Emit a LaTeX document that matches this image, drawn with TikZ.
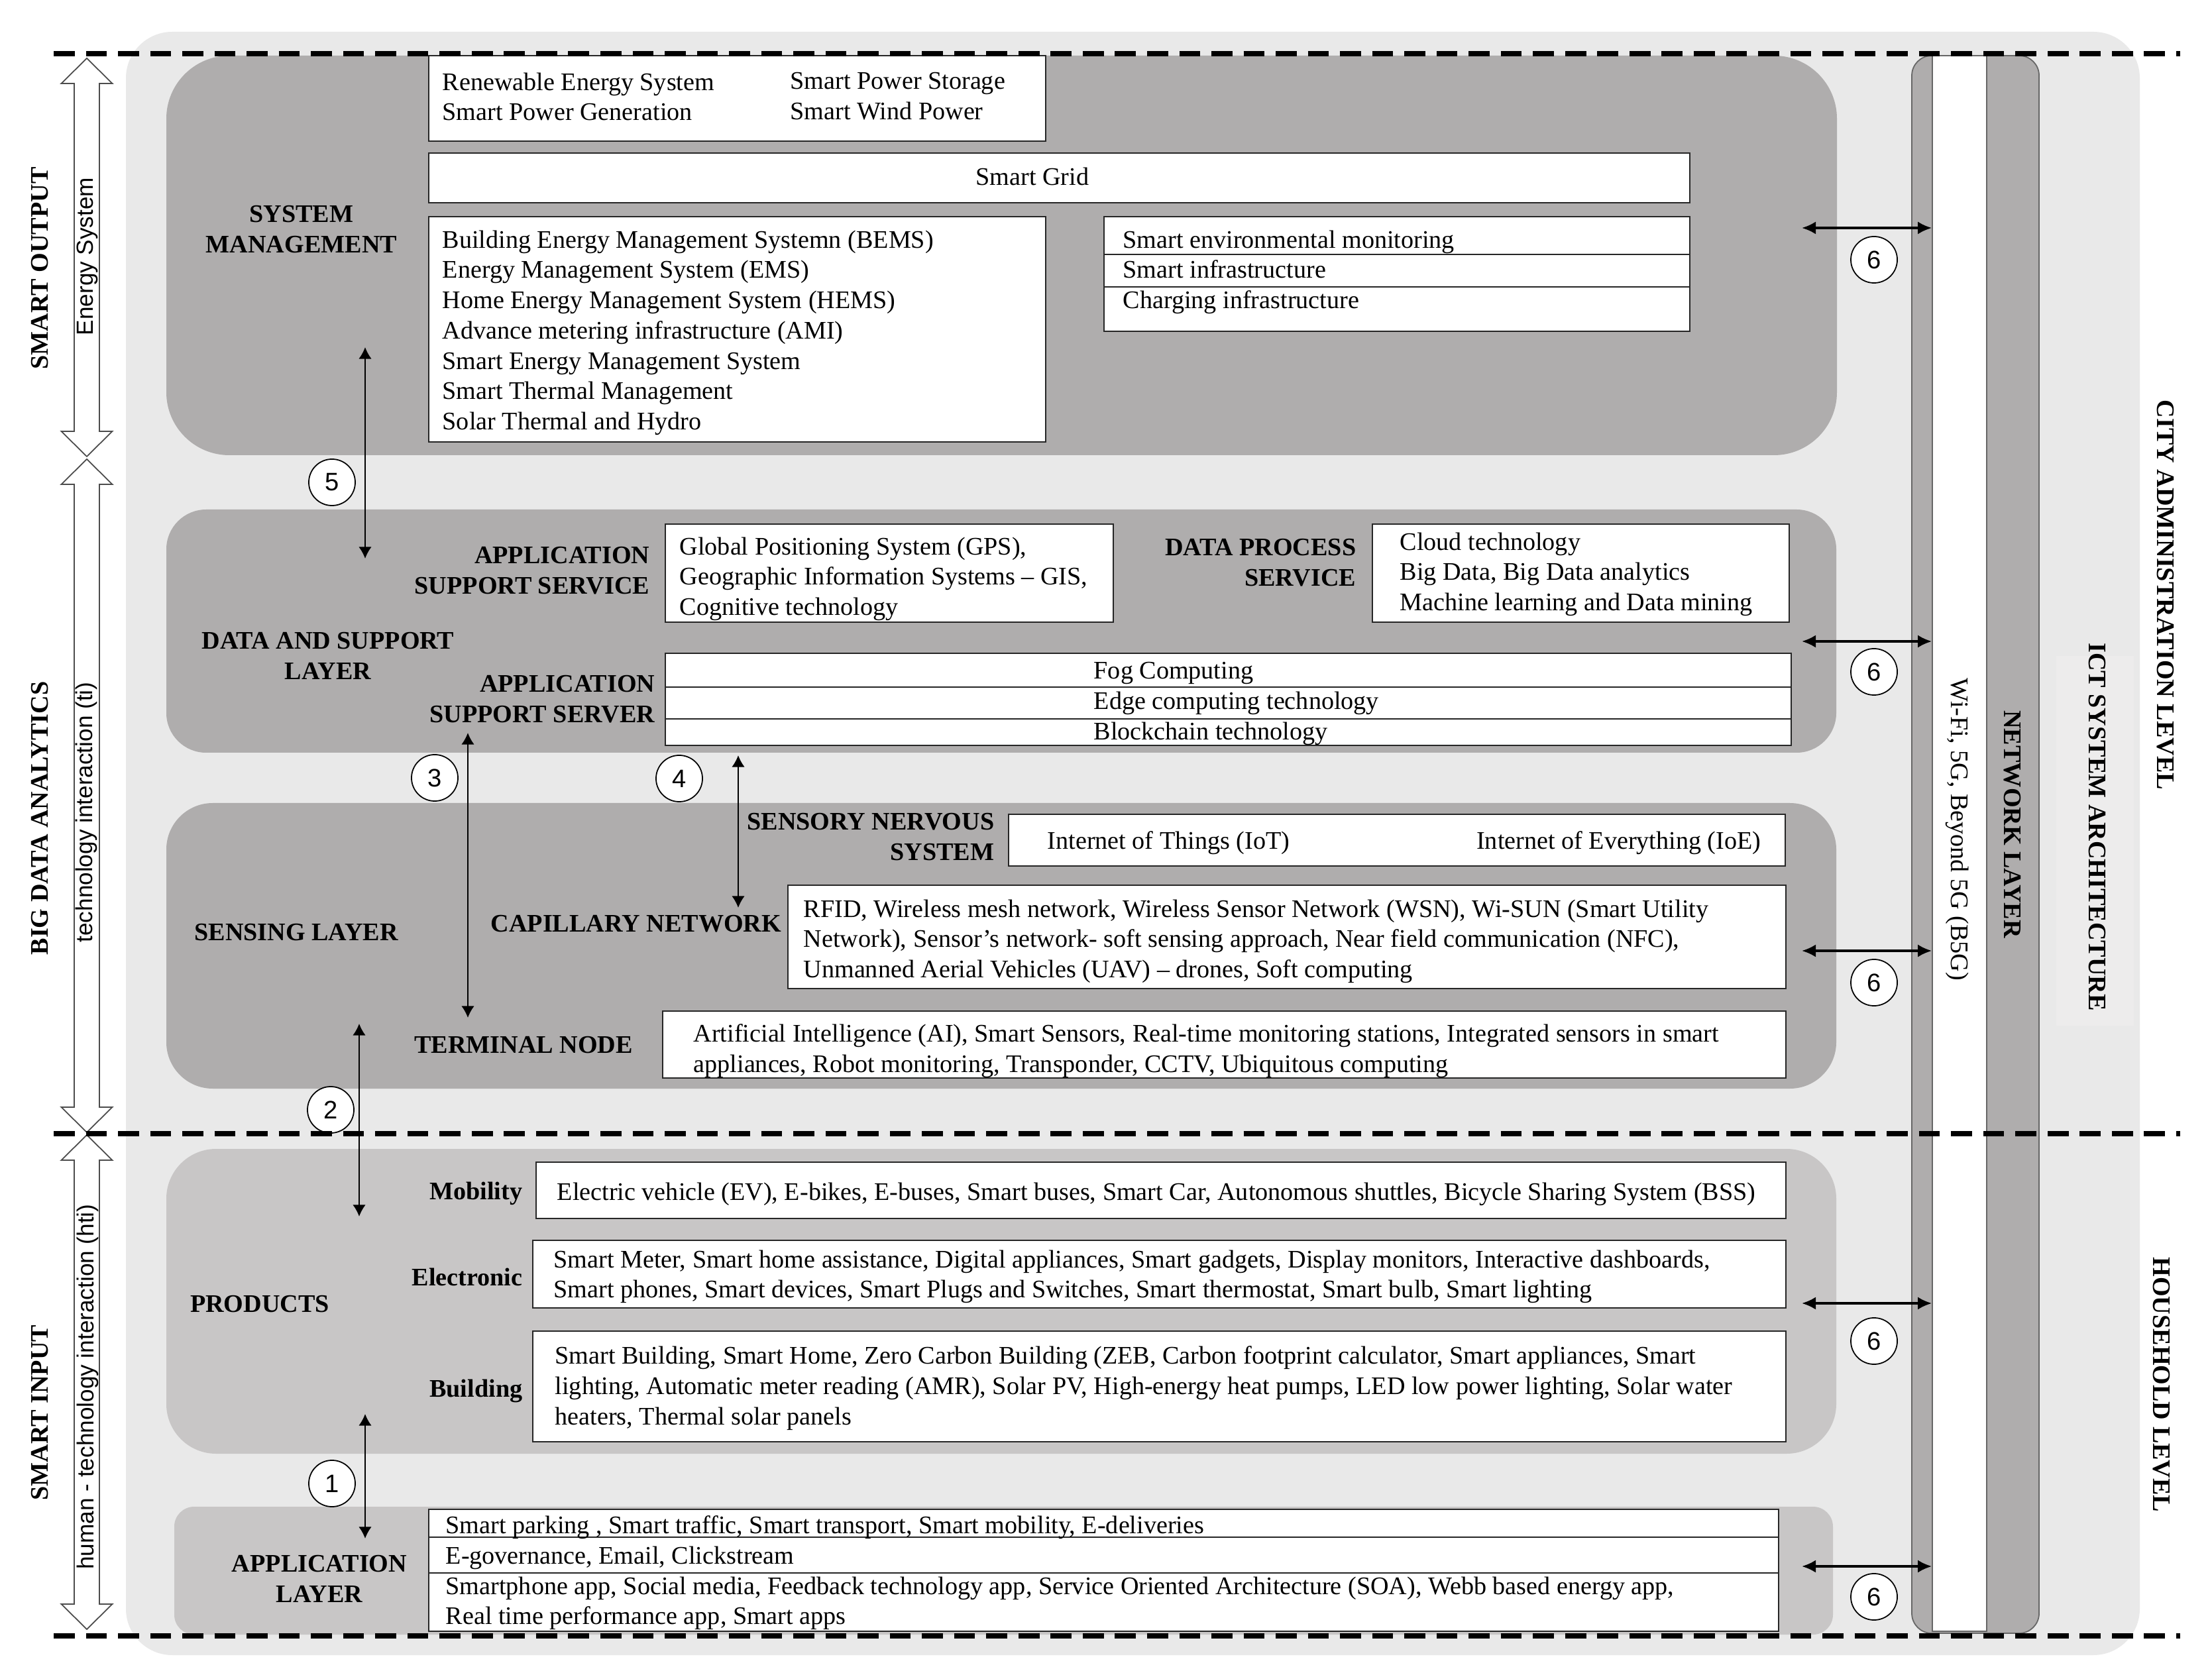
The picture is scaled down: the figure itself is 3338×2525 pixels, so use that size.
\documentclass[tikz,border=0pt]{standalone}
\usepackage{fontspec}
\setmainfont{Liberation Serif}
\setsansfont{Liberation Sans}
\usetikzlibrary{positioning,fit,arrows.meta}
\definecolor{outerbg}{HTML}{E9E9E9}
\definecolor{panelgray}{HTML}{AFADAD}
\definecolor{panellight}{HTML}{C8C6C6}
\definecolor{ictbg}{HTML}{EDECEC}
\newcommand{\bodyfont}{\fontsize{10.85}{13}\selectfont}
\newcommand{\hollowarrow}[3]{% x, top tip, bottom tip
  \draw[sidearrow] (#1,#2) -- (#1+38.5,#2+38) -- (#1+19,#2+38) -- (#1+19,#3-38)
    -- (#1+38.5,#3-38) -- (#1,#3) -- (#1-38.5,#3-38) -- (#1-19,#3-38)
    -- (#1-19,#2+38) -- (#1-38.5,#2+38) -- cycle;}
\tikzset{
panel/.style={fill=panelgray,draw=none,inner sep=0pt},
lpanel/.style={panel,fill=panellight},
wbox/.style={fill=white,draw=black!85,line width=0.5pt,inner sep=0pt},
txt/.style={anchor=north west,inner sep=0pt,align=left,font=\bodyfont,execute at begin node=\strut},
line/.style={inner sep=0pt,font=\bodyfont},
lab/.style={inner sep=0pt,align=center,font=\bodyfont\bfseries},
side/.style={inner sep=0pt,font=\sffamily\fontsize{10}{12}\selectfont},
num/.style={draw,circle,fill=white,line width=0.5pt,minimum size=0.7cm,inner sep=0pt,font=\sffamily\bodyfont},
link/.style={{Latex[length=5pt,width=5.5pt]}-{Latex[length=5pt,width=5.5pt]},line width=0.5pt},
nlink/.style={{Latex[length=6pt,width=5.5pt]}-{Latex[length=6pt,width=5.5pt]},line width=1pt},
sep/.style={line width=2pt,dash pattern=on 9pt off 4.8pt},
sidearrow/.style={fill=white,draw=black!70,line width=0.5pt}
}
\begin{document}
\begin{tikzpicture}[x=0.01cm,y=-0.01cm]
\useasboundingbox[fill=white] (0,0) rectangle (3338,2525);
\fill[outerbg,rounded corners=0.7cm] (190,48) rectangle (3229,2498);

% layers
\node[panel,fit={(251,84) (2772,687)},rounded corners=0.95cm] (sysp) {};
\node[panel,fit={(251,769) (2771,1136)},rounded corners=0.6cm] (datap) {};
\node[panel,fit={(251,1212) (2771,1643)},rounded corners=0.7cm] (sensp) {};
\node[lpanel,fit={(251,1734) (2771,2194)},rounded corners=0.75cm] (prodp) {};
\node[lpanel,fit={(263,2274) (2766,2467)},rounded corners=0.3cm] (appp) {};

% system management
\node[wbox,fit={(647,84) (1578,213)}] (ren) {};
\node[wbox,fit={(647,231) (2550,306)}] (grid) {};
\node[wbox,fit={(647,327) (1578,667)}] (bems) {};
\node[wbox,fit={(1666,327) (2550,500)}] (env) {};
\draw[wbox] (1666,384) -- (2550,384) (1666,433) -- (2550,433);
\node[txt] (rent1) at (667,109) {Renewable Energy System\\Smart Power Generation};
\node[txt] (rent2) at (1192,109) {Smart Power Storage\\Smart Wind Power};
\node[line] (gridt) at (1558,266) {Smart Grid};
\node[txt] (bemst) at (667,347) {Building Energy Management Systemn (BEMS)\\Energy Management System (EMS)\\Home Energy Management System (HEMS)\\Advance metering infrastructure (AMI)\\Smart Energy Management System\\Smart Thermal Management\\Solar Thermal and Hydro};
\node[txt] (envt) at (1694,347) {Smart environmental monitoring\\Smart infrastructure\\Charging infrastructure};
\node[lab] (sysl) at (455,346) {SYSTEM\\MANAGEMENT};

% data and support layer
\node[wbox,fit={(1004,791) (1680,939)}] (gps) {};
\node[wbox,fit={(2071,791) (2700,939)}] (cloud) {};
\node[wbox,fit={(1004,986) (2703,1125)}] (fog) {};
\draw[wbox] (1004,1037) -- (2703,1037) (1004,1085) -- (2703,1085);
\node[lab,align=right,anchor=east] (assl) at (981,861) {APPLICATION\\SUPPORT SERVICE};
\node[txt] (gpst) at (1025,810) {Global Positioning System (GPS),\\Geographic Information Systems -- GIS,\\Cognitive technology};
\node[lab,align=right,anchor=east] (dpsl) at (2047,849) {DATA PROCESS\\SERVICE};
\node[txt] (cloudt) at (2112,803) {Cloud technology\\Big Data, Big Data analytics\\Machine learning and Data mining};
\node[lab] (dsl) at (495,990) {DATA AND SUPPORT\\LAYER};
\node[lab,align=right,anchor=east] (asvl) at (989,1055) {APPLICATION\\SUPPORT SERVER};
\node[txt] (fogt) at (1650,999) {Fog Computing\\Edge computing technology\\Blockchain technology};

% sensing layer
\node[wbox,fit={(1522,1229) (2694,1307)}] (iot) {};
\node[wbox,fit={(1189,1336) (2695,1492)}] (rfid) {};
\node[wbox,fit={(1000,1526) (2695,1627)}] (ai) {};
\node[lab,align=right,anchor=east] (snsl) at (1501,1263) {SENSORY NERVOUS\\SYSTEM};
\node[line,anchor=west] (iott) at (1580,1272) {Internet of Things (IoT)};
\node[line,anchor=east] (ioet) at (2658,1272) {Internet of Everything (IoE)};
\node[lab,anchor=west] (capl) at (740,1394) {CAPILLARY NETWORK};
\node[txt] (rfidt) at (1212,1357) {RFID, Wireless mesh network, Wireless Sensor Network (WSN), Wi-SUN (Smart Utility\\Network), Sensor’s network- soft sensing approach, Near field communication (NFC),\\Unmanned Aerial Vehicles (UAV) -- drones, Soft computing};
\node[lab] (sensl) at (447,1407) {SENSING LAYER};
\node[lab] (terml) at (790,1577) {TERMINAL NODE};
\node[txt] (ait) at (1046,1545) {Artificial Intelligence (AI), Smart Sensors, Real-time monitoring stations, Integrated sensors in smart\\appliances, Robot monitoring, Transponder, CCTV, Ubiquitous computing};

% products
\node[wbox,fit={(809,1754) (2695,1839)}] (mob) {};
\node[wbox,fit={(804,1872) (2695,1974)}] (elec) {};
\node[wbox,fit={(804,2009) (2695,2176)}] (bldg) {};
\node[lab,anchor=east] (mobl) at (789,1801) {Mobility};
\node[txt] (mobt) at (840,1779) {Electric vehicle (EV), E-bikes, E-buses, Smart buses, Smart Car, Autonomous shuttles, Bicycle Sharing System (BSS)};
\node[lab,anchor=east] (elecl) at (789,1927) {Electronic};
\node[txt] (elect) at (835,1886) {Smart Meter, Smart home assistance, Digital appliances, Smart gadgets, Display monitors, Interactive dashboards,\\Smart phones, Smart devices, Smart Plugs and Switches, Smart thermostat, Smart bulb, Smart lighting};
\node[lab,anchor=east] (bldgl) at (789,2099) {Building};
\node[txt] (bldgt) at (837,2031) {Smart Building, Smart Home, Zero Carbon Building (ZEB, Carbon footprint calculator, Smart appliances, Smart\\lighting, Automatic meter reading (AMR), Solar PV, High-energy heat pumps, LED low power lighting, Solar water\\heaters, Thermal solar panels};
\node[lab] (prodl) at (392,1968) {PRODUCTS};

% application layer
\node[wbox,fit={(647,2278) (2684,2462)}] (app) {};
\draw[wbox] (647,2320) -- (2684,2320) (647,2374) -- (2684,2374);
\node[lab] (appl) at (482,2383) {APPLICATION\\LAYER};
\node[txt] (appt) at (672,2287) {Smart parking , Smart traffic, Smart transport, Smart mobility, E-deliveries\\E-governance, Email, Clickstream\\Smartphone app, Social media, Feedback technology app, Service Oriented Architecture (SOA), Webb based energy app,\\Real time performance app, Smart apps};

% network layer
\node[panel,draw=black!60,line width=0.5pt,fit={(2885,84) (3077,2465)},rounded corners=0.3cm] (netbar) {};
\node[wbox,draw=black!60,fit={(2916,84) (2998,2462)}] (wifi) {};
\node[line,rotate=-90] (wifit) at (2954,1252) {Wi-Fi, 5G, Beyond 5G (B5G)};
\node[lab,rotate=-90] (netl) at (3037,1244) {NETWORK LAYER};
\node[fill=ictbg,inner sep=0pt,fit={(3103,990) (3220,1548)}] (ictbox) {};
\node[lab,rotate=-90] (ictl) at (3165,1248) {ICT SYSTEM ARCHITECTURE};
\node[lab,rotate=-90] (cityl) at (3268,898) {CITY ADMINISTRATION LEVEL};
\node[lab,rotate=-90] (housel) at (3262,2090) {HOUSEHOLD LEVEL};

% left side
\hollowarrow{131}{88}{689}
\hollowarrow{131}{693}{1709}
\hollowarrow{131}{1713}{2459}
\node[lab,rotate=90] (outl) at (60,405) {SMART OUTPUT};
\node[side,rotate=90] (enl) at (132,387) {Energy System};
\node[lab,rotate=90] (bigl) at (60,1235) {BIG DATA ANALYTICS};
\node[side,rotate=90] (til) at (130,1226) {technology interaction (ti)};
\node[lab,rotate=90] (inl) at (60,2132) {SMART INPUT};
\node[side,rotate=90] (htil) at (132,2093) {human - technology interaction (hti)};

% links between layers
\foreach \n/\x/\ya/\yb in {5/551/524/843, 3/706/1106/1536, 4/1114/1140/1370, 2/542/1545/1836, 1/551/2134/2322}{
  \coordinate (u\n) at (\x,\ya);
  \coordinate (d\n) at (\x,\yb);
  \draw[link] (u\n) -- (d\n);
}
\foreach \n/\x/\y in {5/501/728, 3/656/1174, 4/1025/1175, 2/499/1675, 1/501/2239}
  \node[num] (c\n) at (\x,\y) {\n};

% links to the network layer
\foreach \y/\c in {344/392, 968/1014, 1435/1483, 1967/2024, 2364/2410}{
  \coordinate (s\y) at (2719,\y);
  \draw[nlink] (s\y) -- (s\y -| wifi.west);
  \node[num] (six\y) at (2828,\c) {6};
}

% level borders
\foreach \y in {81,1711,2469}
  \draw[sep] (81,\y) -- (3290,\y);
\end{tikzpicture}
\end{document}
